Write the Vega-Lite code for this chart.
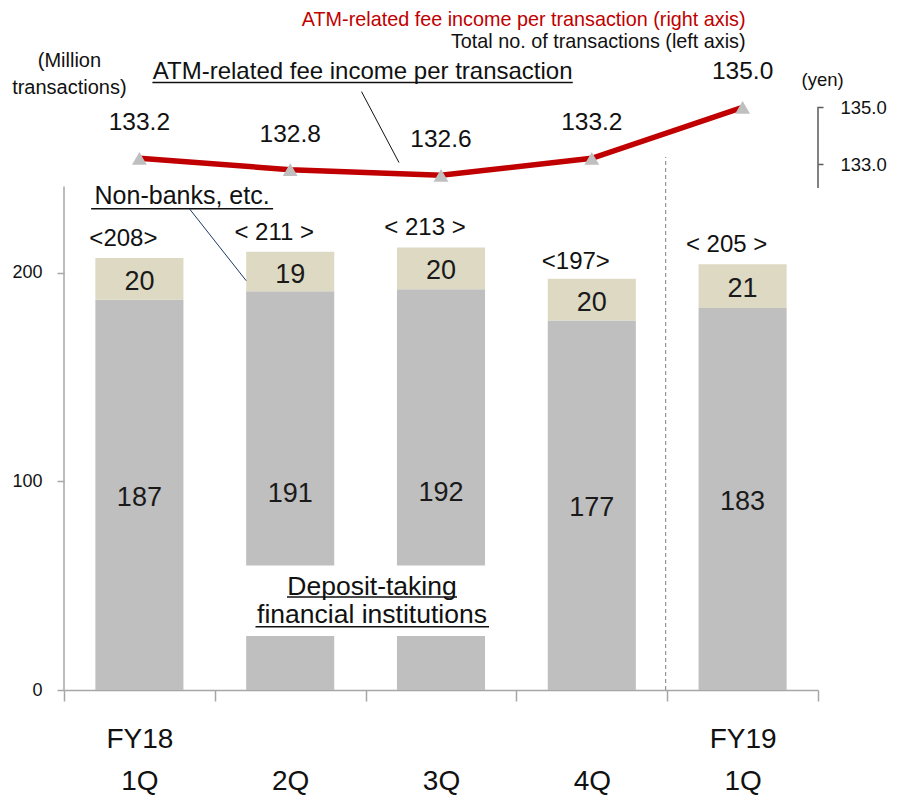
{
  "$schema": "https://vega.github.io/schema/vega-lite/v6.json",
  "width": 754,
  "height": 690,
  "autosize": {"type": "none"},
  "padding": {"left": 64, "top": 0, "right": 86, "bottom": 110},
  "background": "white",
  "config": {"view": {"stroke": null}, "font": "Liberation Sans", "text": {"font": "Liberation Sans"}},
  "datasets": {
    "segments": [
      {"period": "FY18|1Q", "segment": "Deposit-taking financial institutions", "value": 187},
      {"period": "FY18|1Q", "segment": "Non-banks, etc.", "value": 20},
      {"period": "|2Q", "segment": "Deposit-taking financial institutions", "value": 191},
      {"period": "|2Q", "segment": "Non-banks, etc.", "value": 19},
      {"period": "|3Q", "segment": "Deposit-taking financial institutions", "value": 192},
      {"period": "|3Q", "segment": "Non-banks, etc.", "value": 20},
      {"period": "|4Q", "segment": "Deposit-taking financial institutions", "value": 177},
      {"period": "|4Q", "segment": "Non-banks, etc.", "value": 20},
      {"period": "FY19|1Q", "segment": "Deposit-taking financial institutions", "value": 183},
      {"period": "FY19|1Q", "segment": "Non-banks, etc.", "value": 21}
    ],
    "periods": [
      {"period": "FY18|1Q", "total": 208, "totalLabel": "<208>", "fee": 133.2},
      {"period": "|2Q", "total": 211, "totalLabel": "< 211 >", "fee": 132.8},
      {"period": "|3Q", "total": 213, "totalLabel": "< 213 >", "fee": 132.6},
      {"period": "|4Q", "total": 197, "totalLabel": "<197>", "fee": 133.2},
      {"period": "FY19|1Q", "total": 205, "totalLabel": "< 205 >", "fee": 135.0}
    ],
    "notes": [
      {"key": "feeLegend", "note": "ATM-related fee income per transaction (right axis)"},
      {"key": "countLegend", "note": "Total no. of transactions (left axis)"},
      {"key": "leftUnit", "note": "(Million\ntransactions)"},
      {"key": "feeLabel", "note": "ATM-related fee income per transaction"},
      {"key": "nonbankLabel", "note": "Non-banks, etc."},
      {"key": "depositLabel", "note": "Deposit-taking\nfinancial institutions"},
      {"key": "yenUnit", "note": "(yen)"}
    ]
  },
  "layer": [
    {
      "layer": [
        {
          "data": {"name": "segments"},
          "mark": {"type": "bar", "width": {"band": 0.584}},
          "encoding": {
            "x": {
              "field": "period", "type": "nominal",
              "sort": ["FY18|1Q", "|2Q", "|3Q", "|4Q", "FY19|1Q"],
              "scale": {"domain": ["FY18|1Q", "|2Q", "|3Q", "|4Q", "FY19|1Q"], "paddingInner": 0, "paddingOuter": 0},
              "axis": {
                "title": null, "labelExpr": "split(datum.label, '|')", "labelFontSize": 28,
                "labelLineHeight": 42, "labelColor": "#111111", "labelPadding": 24,
                "tickBand": "extent", "tickSize": 11, "tickColor": "#a6a6a6", "tickWidth": 1.5,
                "domainColor": "#a6a6a6", "domainWidth": 1.5, "labelAngle": 0, "labelOverlap": false
              }
            },
            "y": {
              "field": "value", "type": "quantitative", "stack": "zero",
              "scale": {"domain": [0, 330.6], "nice": false},
              "axis": {
                "title": null, "values": [0, 100, 200], "domain": false, "grid": false,
                "tickSize": 7, "tickColor": "#a6a6a6", "tickWidth": 1.5,
                "labelFontSize": 18, "labelPadding": 15, "labelColor": "#111111"
              }
            },
            "color": {
              "field": "segment", "type": "nominal",
              "scale": {"domain": ["Deposit-taking financial institutions", "Non-banks, etc."], "range": ["#bfbfbf", "#ddd9c3"]},
              "legend": null
            },
            "order": {"field": "segment", "sort": "ascending"}
          }
        },
        {
          "data": {"name": "notes"},
          "transform": [{"filter": "datum.key === 'depositLabel'"}],
          "mark": {"type": "rect", "color": "white", "xOffset": -60, "x2Offset": 60},
          "encoding": {"x": {"datum": "|2Q"}, "x2": {"datum": "|3Q"}, "y": {"datum": 25.9}, "y2": {"datum": 59.6}}
        },
        {
          "data": {"name": "segments"},
          "mark": {"type": "text", "fontSize": 27, "color": "#1a1a1a", "baseline": "middle", "dy": 3},
          "encoding": {
            "x": {"field": "period", "type": "nominal"},
            "y": {"field": "value", "type": "quantitative", "stack": "zero", "bandPosition": 0.5},
            "detail": {"field": "segment"},
            "order": {"field": "segment", "sort": "ascending"},
            "text": {"field": "value", "type": "quantitative"}
          }
        },
        {
          "data": {"name": "periods"},
          "mark": {"type": "text", "fontSize": 24, "dx": -16, "dy": -17, "baseline": "middle", "color": "#111111"},
          "encoding": {
            "x": {"field": "period", "type": "nominal"},
            "y": {"field": "total", "type": "quantitative"},
            "text": {"field": "totalLabel"}
          }
        },
        {
          "data": {"name": "notes"},
          "transform": [{"filter": "datum.key === 'leftUnit'"}],
          "mark": {"type": "rule", "color": "#a6a6a6", "strokeWidth": 1.5},
          "encoding": {"x": {"datum": "FY18|1Q", "bandPosition": 0}, "y": {"datum": 0}, "y2": {"datum": 241.3}}
        },
        {
          "data": {"name": "periods"},
          "transform": [{"filter": "datum.period === 'FY19|1Q'"}],
          "mark": {"type": "rule", "color": "#7f7f7f", "strokeDash": [4, 3], "strokeWidth": 1, "xOffset": -1.5},
          "encoding": {"x": {"field": "period", "type": "nominal", "bandPosition": 0}, "y": {"datum": 0}, "y2": {"datum": 255.4}}
        },
        {
          "data": {"name": "notes"},
          "transform": [{"filter": "datum.key === 'feeLegend'"}],
          "mark": {"type": "text", "align": "right", "baseline": "middle", "fontSize": 19.8, "color": "#c00000", "dx": 3},
          "encoding": {"x": {"datum": "FY19|1Q"}, "y": {"datum": 321.0}, "text": {"field": "note"}}
        },
        {
          "data": {"name": "notes"},
          "transform": [{"filter": "datum.key === 'countLegend'"}],
          "mark": {"type": "text", "align": "right", "baseline": "middle", "fontSize": 19.8, "color": "#111111", "dx": 3},
          "encoding": {"x": {"datum": "FY19|1Q"}, "y": {"datum": 310.3}, "text": {"field": "note"}}
        },
        {
          "data": {"name": "notes"},
          "transform": [{"filter": "datum.key === 'leftUnit'"}],
          "mark": {"type": "text", "align": "center", "baseline": "middle", "fontSize": 20, "color": "#111111", "dx": -70, "lineBreak": "\n", "lineHeight": 27.3},
          "encoding": {"x": {"datum": "FY18|1Q"}, "y": {"datum": 301.5}, "text": {"field": "note"}}
        },
        {
          "data": {"name": "notes"},
          "transform": [{"filter": "datum.key === 'feeLabel'"}],
          "mark": {"type": "text", "align": "center", "baseline": "middle", "fontSize": 24, "color": "#111111", "dx": 72.5},
          "encoding": {"x": {"datum": "|2Q"}, "y": {"datum": 295.9}, "text": {"field": "note"}}
        },
        {
          "data": {"name": "notes"},
          "transform": [{"filter": "datum.key === 'nonbankLabel'"}],
          "mark": {"type": "text", "align": "center", "baseline": "middle", "fontSize": 25, "color": "#111111", "dx": 42.7},
          "encoding": {"x": {"datum": "FY18|1Q"}, "y": {"datum": 236.6}, "text": {"field": "note"}}
        },
        {
          "data": {"name": "notes"},
          "transform": [{"filter": "datum.key === 'depositLabel'"}],
          "mark": {"type": "text", "align": "center", "baseline": "middle", "fontSize": 26.5, "color": "#111111", "dx": -69, "lineBreak": "\n", "lineHeight": 28.3},
          "encoding": {"x": {"datum": "|3Q"}, "y": {"datum": 49.5}, "text": {"field": "note"}}
        },
        {
          "data": {"name": "notes"},
          "transform": [{"filter": "datum.key === 'yenUnit'"}],
          "mark": {"type": "text", "align": "center", "baseline": "middle", "fontSize": 18.5, "color": "#111111", "dx": 80},
          "encoding": {"x": {"datum": "FY19|1Q"}, "y": {"datum": 292.3}, "text": {"field": "note"}}
        },
        {
          "data": {"name": "notes"},
          "transform": [{"filter": "datum.key === 'feeLabel'"}],
          "mark": {"type": "rule", "color": "#111111", "strokeWidth": 1.5, "xOffset": 13, "x2Offset": -19},
          "encoding": {"x": {"datum": "FY18|1Q"}, "x2": {"datum": "|4Q"}, "y": {"datum": 291.1}}
        },
        {
          "data": {"name": "notes"},
          "transform": [{"filter": "datum.key === 'nonbankLabel'"}],
          "mark": {"type": "rule", "color": "#111111", "strokeWidth": 1.5, "xOffset": -48.3, "x2Offset": 133.7},
          "encoding": {"x": {"datum": "FY18|1Q"}, "x2": {"datum": "FY18|1Q"}, "y": {"datum": 230.6}}
        },
        {
          "data": {"name": "notes"},
          "transform": [{"filter": "datum.key === 'depositLabel'"}],
          "mark": {"type": "rule", "color": "#111111", "strokeWidth": 1.5, "xOffset": -154, "x2Offset": 16},
          "encoding": {"x": {"datum": "|3Q"}, "x2": {"datum": "|3Q"}, "y": {"datum": 44.56}}
        },
        {
          "data": {"name": "notes"},
          "transform": [{"filter": "datum.key === 'depositLabel'"}],
          "mark": {"type": "rule", "color": "#111111", "strokeWidth": 1.5, "xOffset": -185.5, "x2Offset": 48},
          "encoding": {"x": {"datum": "|3Q"}, "x2": {"datum": "|3Q"}, "y": {"datum": 30.33}}
        },
        {
          "data": {"name": "notes"},
          "transform": [{"filter": "datum.key === 'feeLabel'"}],
          "mark": {"type": "rule", "color": "#111111", "strokeWidth": 1, "xOffset": -79.5, "x2Offset": -42},
          "encoding": {"x": {"datum": "|3Q"}, "x2": {"datum": "|3Q"}, "y": {"datum": 286.7}, "y2": {"datum": 252.7}}
        },
        {
          "data": {"name": "notes"},
          "transform": [{"filter": "datum.key === 'nonbankLabel'"}],
          "mark": {"type": "rule", "color": "#1f3864", "strokeWidth": 1, "xOffset": 50, "x2Offset": -44},
          "encoding": {"x": {"datum": "FY18|1Q"}, "x2": {"datum": "|2Q"}, "y": {"datum": 230.6}, "y2": {"datum": 196.1}}
        }
      ]
    },
    {
      "data": {"name": "periods"},
      "encoding": {
        "x": {"field": "period", "type": "nominal", "sort": ["FY18|1Q", "|2Q", "|3Q", "|4Q", "FY19|1Q"]},
        "y": {
          "field": "fee", "type": "quantitative",
          "scale": {"domain": [114.446, 138.785], "nice": false, "zero": false},
          "axis": {
            "orient": "right", "title": null, "values": [133, 135], "format": ".1f", "domain": false, "grid": false,
            "tickSize": 5, "tickColor": "#595959", "tickWidth": 1.5,
            "labelFontSize": 18.5, "labelPadding": 17, "labelColor": "#111111"
          }
        }
      },
      "layer": [
        {"mark": {"type": "line", "color": "#c00000", "strokeWidth": 5.5}},
        {"mark": {"type": "point", "shape": "triangle-up", "size": 220, "filled": true, "color": "#bfbfbf", "opacity": 1}},
        {
          "mark": {"type": "text", "fontSize": 24.5, "dy": -35, "baseline": "middle", "color": "#111111"},
          "encoding": {"text": {"field": "fee", "type": "quantitative", "format": ".1f"}}
        },
        {
          "transform": [{"filter": "datum.period === 'FY19|1Q'"}],
          "mark": {"type": "rule", "color": "#595959", "strokeWidth": 1.5},
          "encoding": {"x": {"field": "period", "type": "nominal", "bandPosition": 1}, "y": {"datum": 135.02}, "y2": {"datum": 132.15}}
        }
      ]
    }
  ],
  "resolve": {"scale": {"y": "independent"}}
}
